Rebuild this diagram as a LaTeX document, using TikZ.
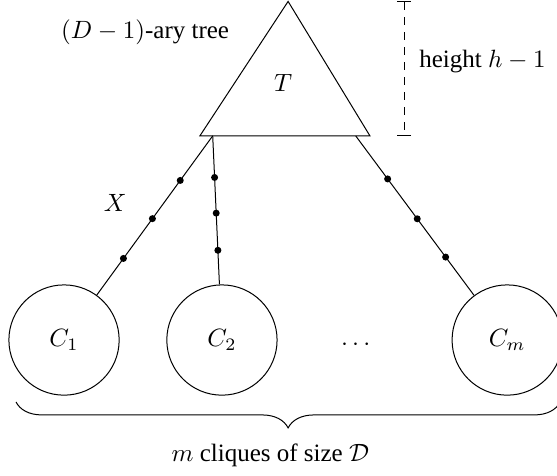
\documentclass[tikz,border=0pt]{standalone}
\usepackage{amsmath, amssymb}
\usepackage[no-math]{fontspec}
\setmainfont{Liberation Serif}
\usepackage{tikz}
\usetikzlibrary{arrows.meta, positioning, calc, decorations.pathreplacing}

\begin{document}
\begin{tikzpicture}[
        font=\normalsize,
        cliquenode/.style={draw, circle, minimum size=1.55cm, inner sep=0pt},
        pathdot/.style={circle, fill=black, inner sep=0pt, minimum size=2.8pt},
        edge/.style={line width=0.4pt, color=black},
        heightbar/.style={dashed, {Bar[width=5.6pt]}-{Bar[width=5.6pt]}}
      ]
        \useasboundingbox (0,0) rectangle (7.83,-6.68);

        % the tree T
        \coordinate (apex) at (4.05,-0.02);
        \coordinate (baseL) at (2.81,-1.91);
        \coordinate (baseR) at (5.20,-1.91);
        \coordinate (rootA) at (2.99,-1.91);
        \coordinate (rootB) at (5.00,-1.91);
        \draw[edge] (apex) -- (baseL) -- (baseR) -- cycle;
        \node (tname) at (3.98,-1.17) {$T$};
        \node (treelabel) at (2.04,-0.46) {$(D-1)$-ary tree};

        % height marker
        \coordinate (htop) at (5.68,-0.02);
        \coordinate (hbot) at (5.68,-1.91);
        \draw[heightbar] (htop) -- (hbot);
        \node[anchor=west] (heightlabel) at (5.77,-0.87) {height $h-1$};

        % cliques
        \node[cliquenode] (c1) at (0.90,-4.78) {$C_1$};
        \node[cliquenode] (c2) at (3.12,-4.78) {$C_2$};
        \node (cdots) at (5.03,-4.85) {$\cdots$};
        \node[cliquenode] (cm) at (7.13,-4.78) {$C_m$};

        % paths from the tree to the cliques
        \draw[edge] (rootA) -- (c1)
          node[pathdot, pos=0.28] (d11) {}
          node[pathdot, pos=0.52] (d12) {}
          node[pathdot, pos=0.77] (d13) {};
        \draw[edge] (rootA) -- (c2)
          node[pathdot, pos=0.28] (d21) {}
          node[pathdot, pos=0.52] (d22) {}
          node[pathdot, pos=0.77] (d23) {};
        \draw[edge] (rootB) -- (cm)
          node[pathdot, pos=0.27] (d31) {}
          node[pathdot, pos=0.52] (d32) {}
          node[pathdot, pos=0.76] (d33) {};
        \node (xlabel) at (1.62,-2.85) {$X$};

        % brace under the cliques
        \coordinate (braceL) at (0.225,-5.65);
        \coordinate (braceR) at (7.875,-5.65);
        \draw[decorate, decoration={brace, mirror, amplitude=10.4pt}] (braceL) -- (braceR);
        \node (bracelabel) at (3.80,-6.40) {$m$ cliques of size $\mathcal{D}$};
      \end{tikzpicture}
\end{document}
